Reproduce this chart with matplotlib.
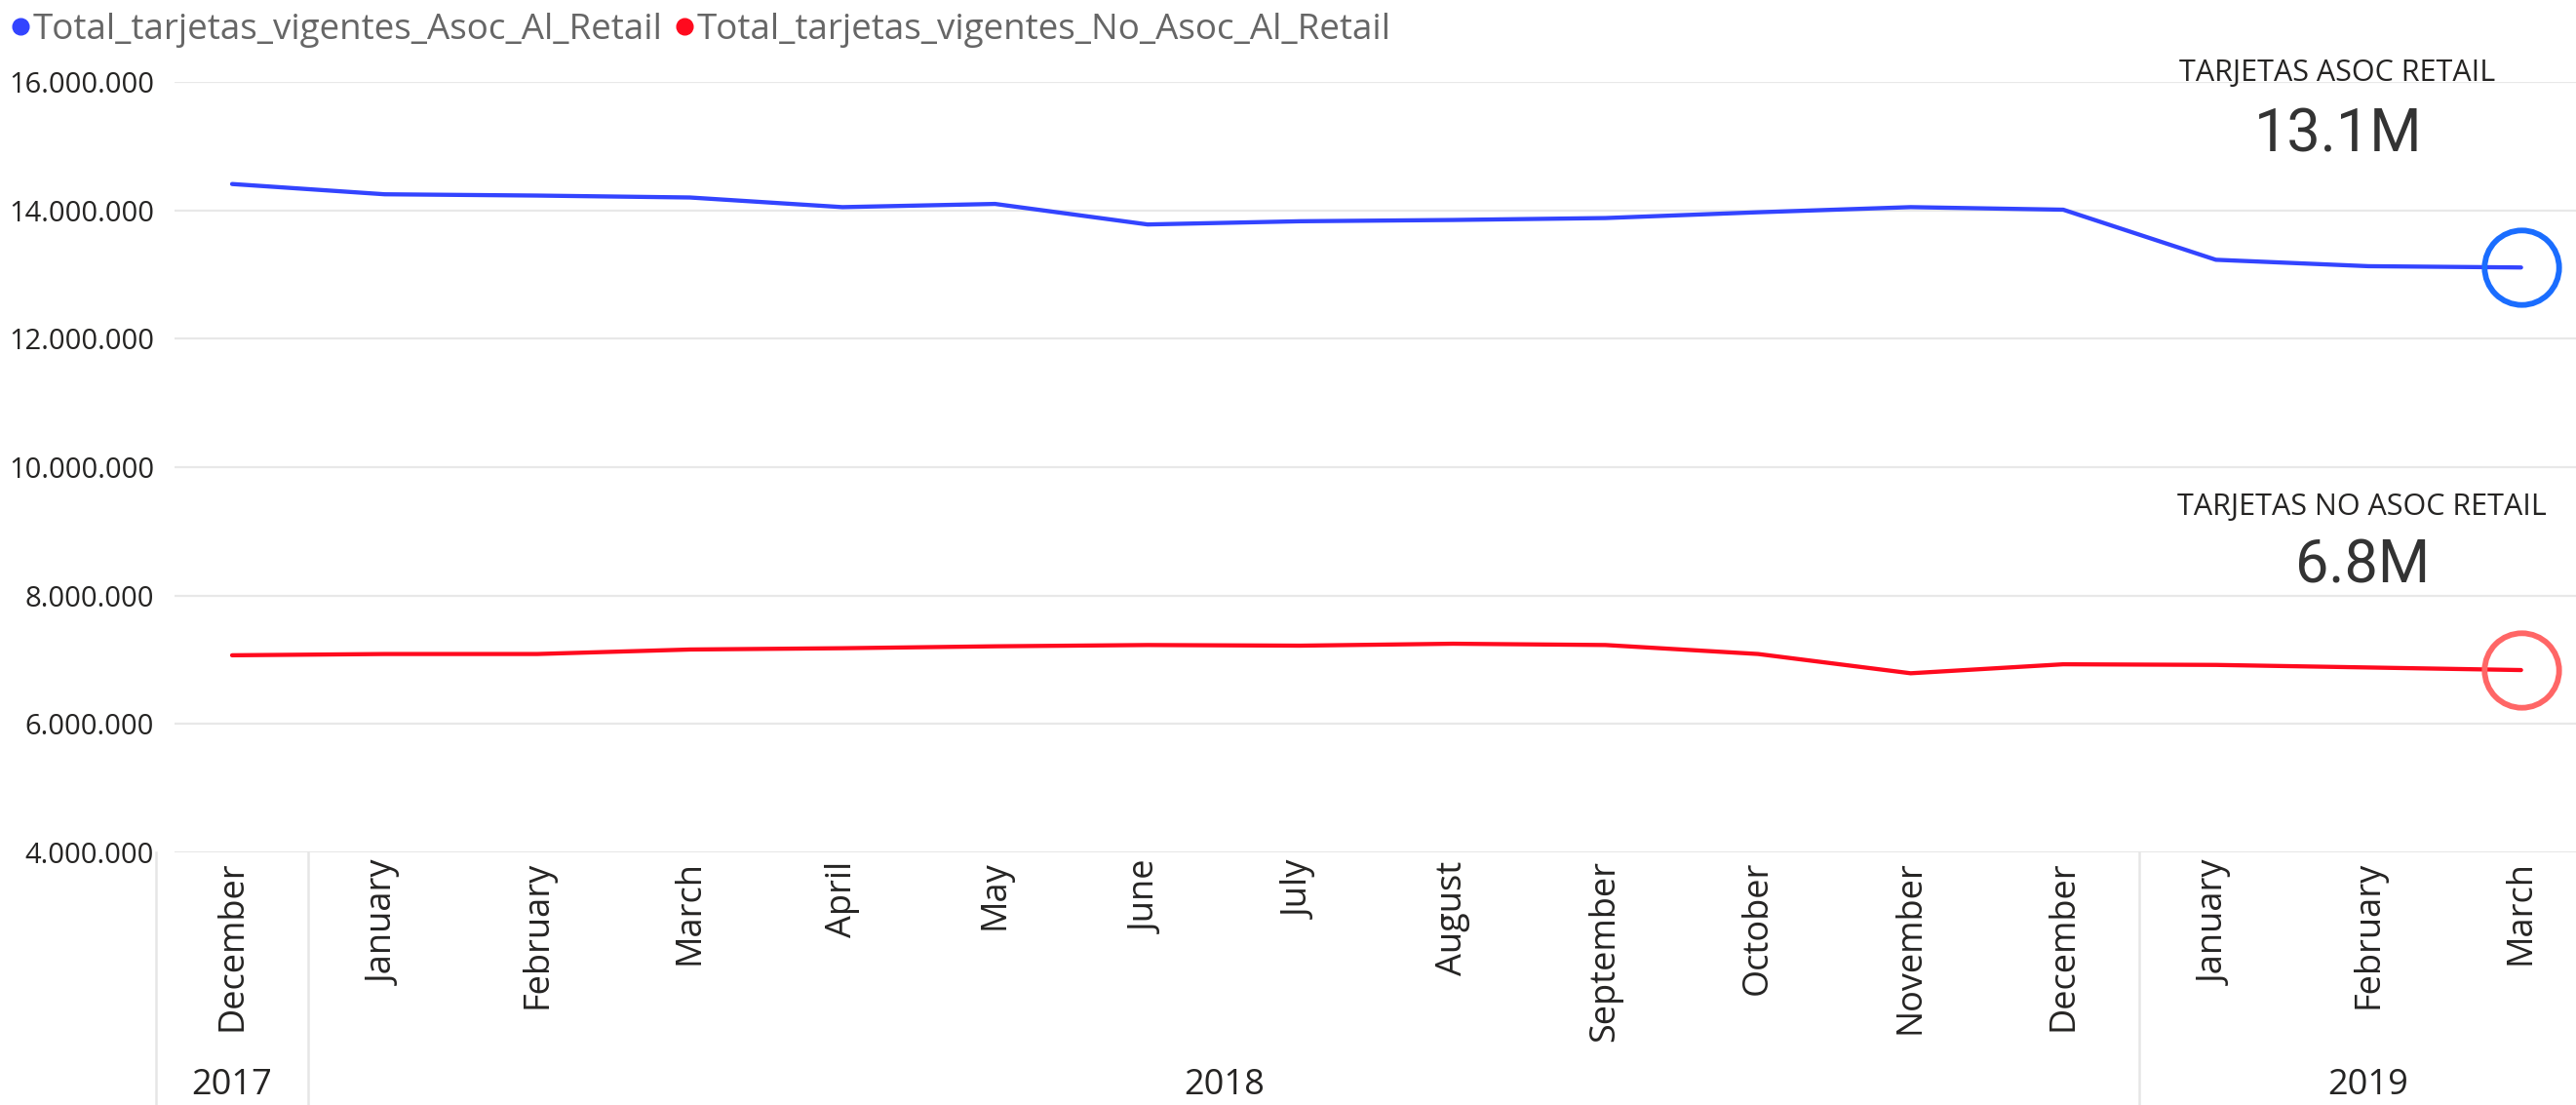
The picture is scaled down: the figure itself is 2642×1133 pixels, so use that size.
import numpy as np
import matplotlib
matplotlib.use("Agg")
import matplotlib.pyplot as plt
from matplotlib.lines import Line2D
from matplotlib.ticker import FuncFormatter

plt.rcParams['font.family'] = ['Open Sans', 'DejaVu Sans']

# data
months = ['December', 'January', 'February', 'March', 'April', 'May', 'June',
          'July', 'August', 'September', 'October', 'November', 'December',
          'January', 'February', 'March']
years = ['2017'] + ['2018'] * 12 + ['2019'] * 3
asoc = [14.41, 14.25, 14.23, 14.20, 14.05, 14.10, 13.78, 13.83, 13.85, 13.88,
        13.97, 14.05, 14.01, 13.23, 13.13, 13.11]
no_asoc = [7.07, 7.09, 7.09, 7.16, 7.18, 7.21, 7.23, 7.22, 7.25, 7.23,
           7.09, 6.79, 6.93, 6.92, 6.88, 6.84]
asoc = np.array(asoc) * 1e6
no_asoc = np.array(no_asoc) * 1e6

name_asoc = 'Total_tarjetas_vigentes_Asoc_Al_Retail'
name_no = 'Total_tarjetas_vigentes_No_Asoc_Al_Retail'
BLUE = '#3344ff'
RED = '#ff0a1e'

W, H = 2642, 1133
fig = plt.figure(figsize=(W / 100, H / 100), dpi=100)
ax = fig.add_axes([179 / W, 1 - 874 / H, 2463 / W, 790 / H])

x = np.arange(len(months))
ax.plot(x, asoc, color=BLUE, lw=3.1, solid_capstyle='round')
ax.plot(x, no_asoc, color=RED, lw=3.1, solid_capstyle='round')

# highlight circles on last point
ax.plot(x[-1], asoc[-1], 'o', ms=55, mfc='none', mec='#1a6dff', mew=4.2, clip_on=False)
ax.plot(x[-1], no_asoc[-1], 'o', ms=55, mfc='none', mec='#ff6666', mew=4.2, clip_on=False)

ax.set_ylim(4e6, 16e6)
ax.set_xlim(-0.377, 15.36)
ax.set_yticks(np.arange(4e6, 16e6 + 1, 2e6))
ax.yaxis.set_major_formatter(FuncFormatter(lambda v, p: f"{int(v):,}".replace(',', '.')))
ax.grid(axis='y', color='#e8e8e8', lw=1.6)
ax.set_axisbelow(True)
for s in ax.spines.values():
    s.set_visible(False)
ax.tick_params(axis='y', length=0, pad=15, labelsize=21, labelcolor='#252423')
ax.set_xticks(x)
ax.set_xticklabels(months, rotation=90, va='top', ha='center')
ax.tick_params(axis='x', length=0, pad=6, labelsize=26, labelcolor='#252423')

# year groups
trans = ax.get_xaxis_transform()
bounds = [-0.5]
for i in range(1, len(years)):
    if years[i] != years[i - 1]:
        bounds.append(i - 0.5)
for b in bounds:
    ax.plot([b, b], [0, -0.33], transform=trans, color='#e6e6e6', lw=1.8, clip_on=False)
for yr in dict.fromkeys(years):
    idx = [i for i, v in enumerate(years) if v == yr]
    ax.text(np.mean(idx), -0.3025, yr, transform=trans, ha='center', va='center',
            fontsize=26, color='#252423')

# legend
handles = [Line2D([], [], ls='none', marker='o', ms=12, color=BLUE),
           Line2D([], [], ls='none', marker='o', ms=12, color=RED)]
leg = fig.legend(handles, [name_asoc, name_no], loc='upper left', bbox_to_anchor=(-0.004, 1.008),
                 ncol=2, frameon=False, fontsize=26.5, handlelength=0.5, handletextpad=0.1,
                 columnspacing=0.35, borderaxespad=0.2)
for t in leg.get_texts():
    t.set_color('#666666')

# cards
fig.text(2397 / W, 1 - 75 / H, 'TARJETAS ASOC RETAIL', ha='center', va='center',
         fontsize=22, color='#252423')
fig.text(2398 / W, 1 - 138 / H, f"{asoc[-1] / 1e6:.1f}M", ha='center', va='center',
         fontsize=44, color='#333333', family='Roboto')
fig.text(2422 / W, 1 - 520 / H, 'TARJETAS NO ASOC RETAIL', ha='center', va='center',
         fontsize=22, color='#252423')
fig.text(2423 / W, 1 - 581 / H, f"{no_asoc[-1] / 1e6:.1f}M", ha='center', va='center',
         fontsize=44, color='#333333', family='Roboto')

fig.savefig('out.png', dpi=100)
